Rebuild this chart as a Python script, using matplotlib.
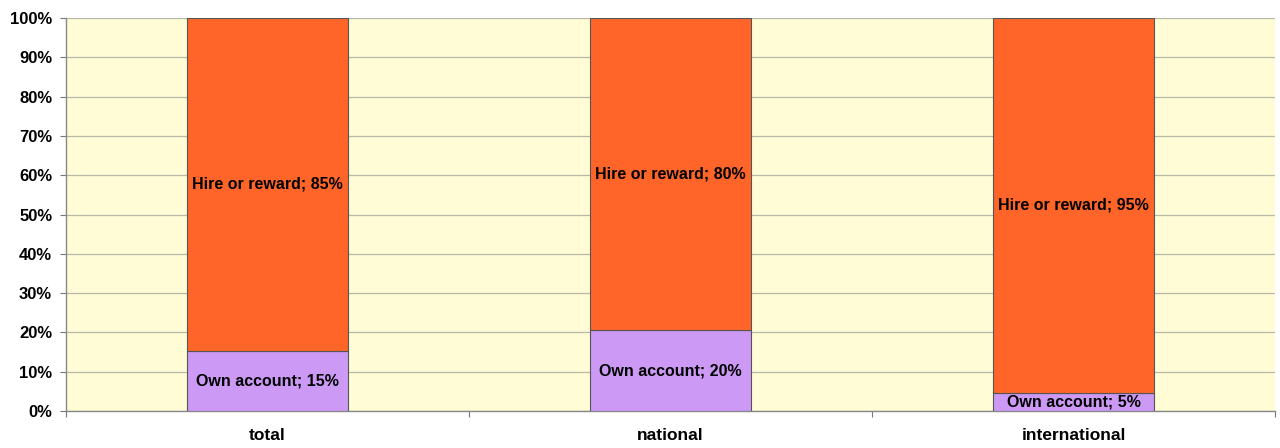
import numpy as np
import matplotlib.pyplot as plt

plt.rcParams['font.family'] = ['Liberation Sans', 'DejaVu Sans']

categories = ['total', 'national', 'international']
own_account = [15.3, 20.6, 4.6]
hire_reward = [84.7, 79.4, 95.4]
own_labels = ['Own account; 15%', 'Own account; 20%', 'Own account; 5%']
hire_labels = ['Hire or reward; 85%', 'Hire or reward; 80%', 'Hire or reward; 95%']

x = np.arange(len(categories))

fig = plt.figure(figsize=(12.8, 4.48), dpi=100)
ax = fig.add_axes([0.0516, 0.0826, 0.9445, 0.8772])
ax.set_facecolor('#FFFCD6')

ax.bar(x, own_account, width=0.4, color='#CC99F5', edgecolor='#555555', linewidth=0.8, zorder=3)
ax.bar(x, hire_reward, width=0.4, bottom=own_account, color='#FF6529', edgecolor='#555555', linewidth=0.8, zorder=3)

for i in range(len(categories)):
    ax.text(x[i], own_account[i] / 2, own_labels[i], ha='center', va='center',
            fontsize=11.5, fontweight='bold', zorder=4)
    ax.text(x[i], own_account[i] + hire_reward[i] / 2, hire_labels[i], ha='center', va='center',
            fontsize=11.5, fontweight='bold', zorder=4)

ax.set_xlim(-0.5, 2.5)
ax.set_ylim(0, 100)
ax.set_yticks(np.arange(0, 101, 10))
ax.set_yticklabels([f'{v}%' for v in range(0, 101, 10)], fontsize=12, fontweight='bold')
ax.yaxis.grid(True, color='#B8B8A8', linewidth=0.9, zorder=0)

ax.set_xticks([-0.5, 0.5, 1.5, 2.5])
ax.set_xticklabels([])
ax.set_xticks(x, minor=True)
ax.set_xticklabels(categories, minor=True, fontsize=12.5, fontweight='bold')
ax.tick_params(axis='x', which='minor', length=0, pad=12)
ax.tick_params(axis='x', which='major', length=4, color='#777777')
ax.tick_params(axis='y', length=4, color='#777777', pad=6)

for s in ['top', 'right']:
    ax.spines[s].set_visible(False)
for s in ['left', 'bottom']:
    ax.spines[s].set_color('#888888')
    ax.spines[s].set_linewidth(1.0)

fig.savefig('out.png', dpi=100)
